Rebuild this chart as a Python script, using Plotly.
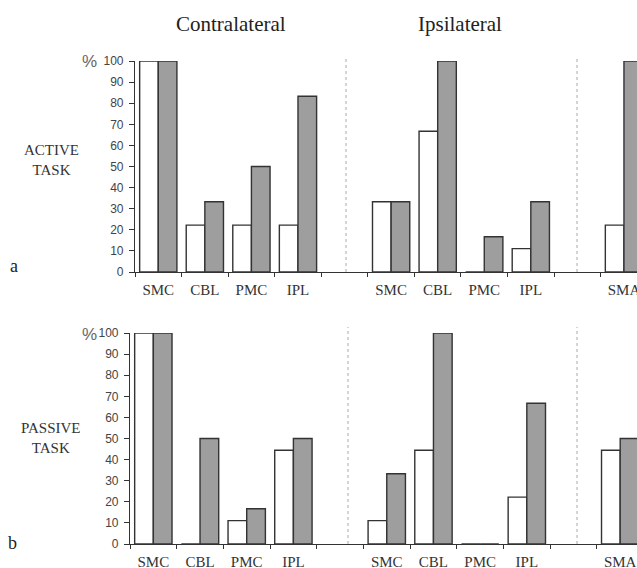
import plotly.graph_objects as go

W, H = 637, 568

# slot ids (unique) and their display labels
slot_ids = ["c_SMC", "c_CBL", "c_PMC", "c_IPL", "gap1",
            "i_SMC", "i_CBL", "i_PMC", "i_IPL", "gap2", "i_SMA"]
slot_labels = ["SMC", "CBL", "PMC", "IPL", "",
               "SMC", "CBL", "PMC", "IPL", "", "SMA"]

# values (%) – white bars and grey bars
active_white = [100, 22.2, 22.2, 22.2, None, 33.3, 66.7, 0, 11.1, None, 22.2]
active_grey = [100, 33.3, 50, 83.3, None, 33.3, 100, 16.7, 33.3, None, 100]
passive_white = [100, 0, 11.1, 44.4, None, 11.1, 44.4, 0, 22.2, None, 44.4]
passive_grey = [100, 50, 16.7, 50, None, 33.3, 100, 0, 66.7, None, 50]

y_ticks = list(range(0, 101, 10))

LINE = "#333333"
GREY = "#9e9e9e"
SERIF = "Liberation Serif"
SANS = "Liberation Sans"

fig = go.Figure()

def add_pair(white, grey, xa, ya):
    fig.add_trace(go.Bar(x=slot_ids, y=white, xaxis=xa, yaxis=ya,
                         marker=dict(color="white", line=dict(color=LINE, width=1.4)),
                         showlegend=False, hoverinfo="skip"))
    fig.add_trace(go.Bar(x=slot_ids, y=grey, xaxis=xa, yaxis=ya,
                         marker=dict(color=GREY, line=dict(color=LINE, width=1.4)),
                         showlegend=False, hoverinfo="skip"))

add_pair(active_white, active_grey, "x", "y")
add_pair(passive_white, passive_grey, "x2", "y2")

def px_x(p):
    return p / W

def px_y(p):
    return 1 - p / H

xcommon = dict(type="category", tickmode="array", tickvals=slot_ids, ticktext=slot_labels,
               tickson="boundaries", ticks="outside", ticklen=4, tickcolor=LINE, tickwidth=1,
               showline=True, linecolor=LINE, linewidth=1.2, showgrid=False, zeroline=False,
               tickfont=dict(family=SERIF, size=15, color="#333333"),
               ticklabeloverflow="allow", ticklabelstandoff=4, fixedrange=True,
               automargin=False)
ycommon = dict(range=[0, 100], tickmode="array", tickvals=y_ticks, ticks="outside", ticklen=5,
               tickcolor=LINE, tickwidth=1, showline=True, linecolor=LINE, linewidth=1.2,
               showgrid=False, zeroline=False, automargin=False, fixedrange=True,
               tickfont=dict(family=SANS, size=12, color="#444444"), ticklabelstandoff=3)

fig.update_layout(
    width=W, height=H, margin=dict(l=0, r=0, t=0, b=0, autoexpand=False),
    paper_bgcolor="white", plot_bgcolor="white",
    barmode="group", bargap=0.2, bargroupgap=0,
    xaxis=dict(**xcommon, domain=[px_x(135), 1], range=[-0.5, 10.28], anchor="y"),
    yaxis=dict(**ycommon, domain=[px_y(272), px_y(61)], anchor="x"),
    xaxis2=dict(**xcommon, domain=[px_x(130), 1], range=[-0.5, 10.36], anchor="y2"),
    yaxis2=dict(**ycommon, domain=[px_y(544), px_y(333)], anchor="x2"),
)

# dotted separators
for (xp, y0, y1) in [(346, 57, 272), (577, 57, 272), (348, 327, 544), (577, 327, 544)]:
    fig.add_shape(type="line", xref="paper", yref="paper",
                  x0=px_x(xp), x1=px_x(xp), y0=px_y(y1), y1=px_y(y0),
                  line=dict(color="#aaaaaa", width=1, dash="dot"))

def ann(text, x, y, size, family=SERIF, color="#222222"):
    fig.add_annotation(text=text, x=px_x(x), y=px_y(y), xref="paper", yref="paper",
                       xanchor="center", yanchor="middle", showarrow=False,
                       font=dict(family=family, size=size, color=color))

ann("Contralateral", 231, 24, 21)
ann("Ipsilateral", 460, 24, 21)
ann("ACTIVE<br>TASK", 51, 160, 15, color="#333333")
ann("PASSIVE<br>TASK", 50, 438, 15, color="#333333")
ann("a", 14, 266, 18)
ann("b", 13, 543, 18)
ann("%", 89, 62, 17, family=SANS, color="#666666")
ann("%", 89, 334, 17, family=SANS, color="#666666")

fig.write_html(
    "out.html",
    config={"displayModeBar": False},
    post_script="document.body.style.margin='0';document.body.style.overflow='hidden';",
)
